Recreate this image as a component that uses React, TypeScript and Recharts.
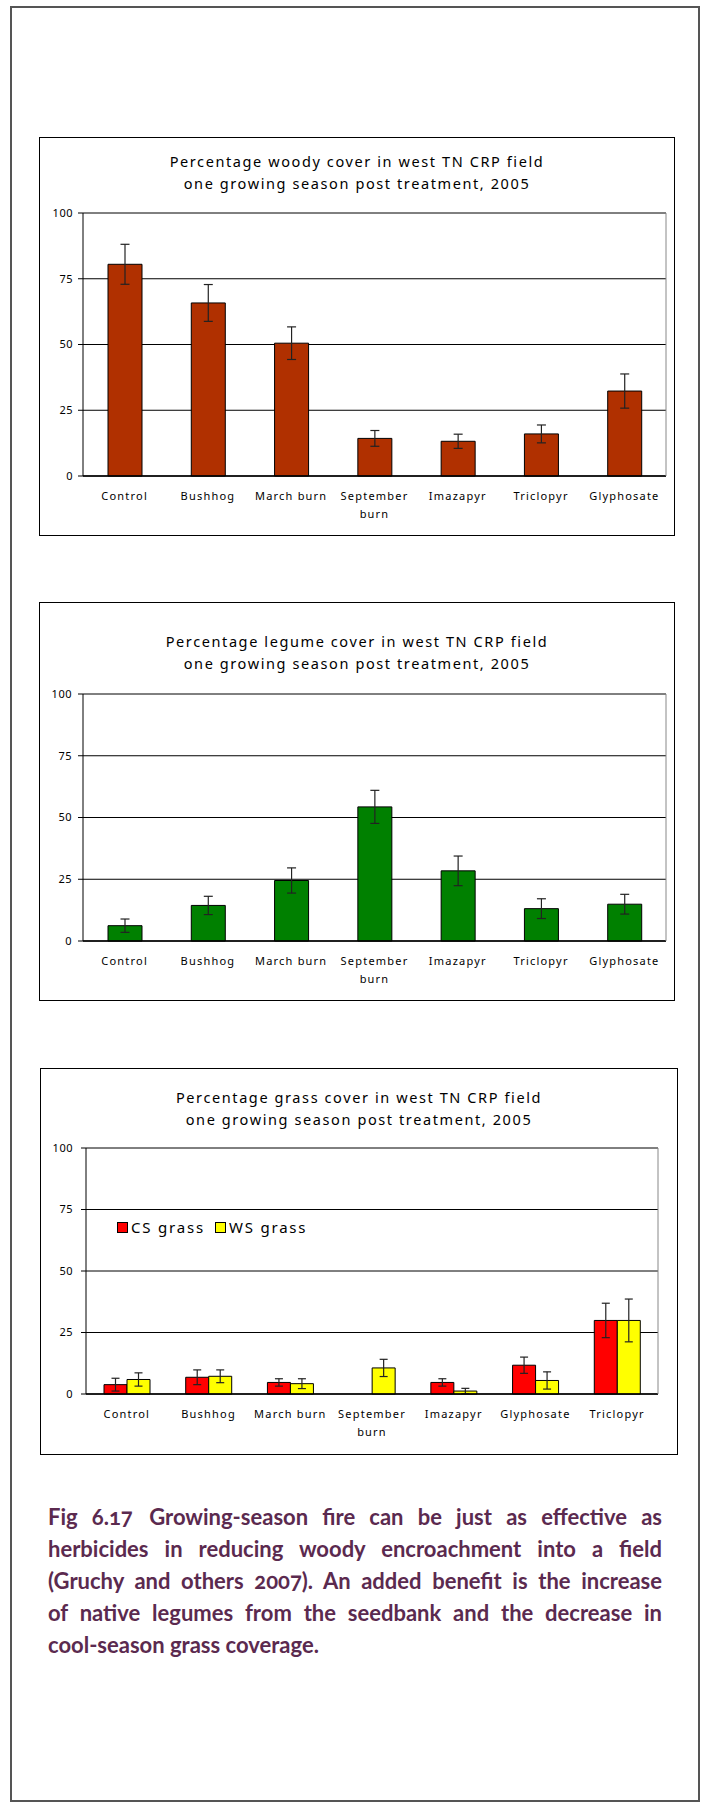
import React from "react";
import { BarChart, Bar, XAxis, YAxis, CartesianGrid, ErrorBar, Legend } from "recharts";

// --- data ---
const CATEGORIES = ["Control", "Bushhog", "March burn", "September burn", "Imazapyr", "Triclopyr", "Glyphosate"];
const WOODY = [80.5, 65.8, 50.5, 14.3, 13.2, 16, 32.3];
const WOODY_ERR = [7.6, 7, 6.2, 3, 2.7, 3.4, 6.5];
const LEGUME = [6.2, 14.4, 24.5, 54.3, 28.4, 13.1, 14.9];
const LEGUME_ERR = [2.7, 3.7, 5.1, 6.7, 6, 4, 4];

const GRASS_CATEGORIES = ["Control", "Bushhog", "March burn", "September burn", "Imazapyr", "Glyphosate", "Triclopyr"];
const CS_GRASS = [3.8, 6.8, 4.7, null, 4.7, 11.7, 29.9];
const CS_GRASS_ERR = [2.6, 3, 1.5, null, 1.5, 3.3, 7];
const WS_GRASS = [5.9, 7.2, 4.2, 10.6, 1.2, 5.5, 29.9];
const WS_GRASS_ERR = [2.7, 2.6, 2, 3.5, 1.1, 3.5, 8.7];

const Y_TICKS = [0, 25, 50, 75, 100];

const CAPTION = [
  "Fig 6.17\u2003Growing-season fire can be just as effective as",
  "herbicides in reducing woody encroachment into a field",
  "(Gruchy and others 2007). An added benefit is the increase",
  "of native legumes from the seedbank and the decrease in",
  "cool-season grass coverage.",
];

const FONT = "'Noto Sans', 'DejaVu Sans', sans-serif";

const woodyData = CATEGORIES.map((name, i) => ({ name, value: WOODY[i], err: WOODY_ERR[i] }));
const legumeData = CATEGORIES.map((name, i) => ({ name, value: LEGUME[i], err: LEGUME_ERR[i] }));
const grassData = GRASS_CATEGORIES.map((name, i) => ({
  name,
  cs: CS_GRASS[i],
  csErr: CS_GRASS_ERR[i],
  ws: WS_GRASS[i],
  wsErr: WS_GRASS_ERR[i],
}));

function CategoryTick({ x, y, payload }: any) {
  const label = String(payload.value);
  const lines = label.length > 12 ? label.split(" ") : [label];
  return (
    <text x={x} y={y} textAnchor="middle" fontFamily={FONT} fontSize={11} letterSpacing={1.2} fill="#000">
      {lines.map((l, i) => (
        <tspan key={i} x={x} dy={i === 0 ? 24 : 18}>
          {l}
        </tspan>
      ))}
    </text>
  );
}

function GrassLegend() {
  const items = [
    { label: "CS grass", color: "#FF0000" },
    { label: "WS grass", color: "#FFFF00" },
  ];
  return (
    <div style={{ display: "flex", alignItems: "center", fontFamily: FONT, fontSize: 15, letterSpacing: 1.8, whiteSpace: "nowrap" }}>
      {items.map((it) => (
        <span key={it.label} style={{ display: "flex", alignItems: "center", marginRight: 10 }}>
          <span style={{ width: 9, height: 9, background: it.color, border: "1px solid #000", marginRight: 3 }} />
          {it.label}
        </span>
      ))}
    </div>
  );
}

interface PanelProps {
  left: number;
  top: number;
  width: number;
  height: number;
  title: string[];
  titleTop: number;
  margin: { top: number };
  yWidth: number;
  rightWidth: number;
  xHeight: number;
  tickMargin: number;
  data: any[];
  children: React.ReactNode;
  legend?: boolean;
}

function Panel(p: PanelProps) {
  const edges = p.data.map((_, i) => i).concat(p.data.length);
  return (
    <div style={{ position: "absolute", left: p.left, top: p.top, width: p.width, height: p.height }}>
      <BarChart
        width={p.width}
        height={p.height}
        data={p.data}
        margin={{ top: p.margin.top, right: 0, bottom: 0, left: 0 }}
        barGap={0}
      >
        <CartesianGrid vertical={false} stroke="#000" strokeWidth={1} />
        <XAxis
          xAxisId="edges"
          type="number"
          domain={[0, p.data.length]}
          ticks={edges}
          height={1}
          tickSize={5}
          tickLine={{ stroke: "#000" }}
          axisLine={false}
          tickFormatter={() => ""}
        />
        <XAxis
          dataKey="name"
          height={p.xHeight}
          tickLine={false}
          tickSize={0}
          tickMargin={0}
          interval={0}
          axisLine={{ stroke: "#000", strokeWidth: 1.5 }}
          tick={<CategoryTick />}
        />
        <YAxis
          domain={[0, 100]}
          ticks={Y_TICKS}
          width={p.yWidth}
          tickSize={5}
          tickMargin={p.tickMargin}
          axisLine={{ stroke: "#000" }}
          tickLine={{ stroke: "#000" }}
          tick={{ fill: "#000", fontSize: 11, fontFamily: FONT, letterSpacing: 0.5 }}
        />
        <YAxis
          yAxisId="right"
          orientation="right"
          domain={[0, 100]}
          width={p.rightWidth}
          tick={false}
          tickLine={false}
          axisLine={{ stroke: "#888" }}
        />
        {p.legend && (
          <Legend
            layout="horizontal"
            verticalAlign="middle"
            align="center"
            wrapperStyle={{ top: 149, left: 77, width: "auto" }}
            content={<GrassLegend />}
          />
        )}
        {p.children}
      </BarChart>
      <div
        style={{
          position: "absolute",
          inset: 0,
          border: "1.5px solid #000",
          boxSizing: "border-box",
          pointerEvents: "none",
        }}
      />
      <div
        style={{
          position: "absolute",
          left: 0,
          width: p.width,
          top: p.titleTop,
          textAlign: "center",
          fontFamily: FONT,
          fontSize: 14.5,
          letterSpacing: 1.6,
          lineHeight: "21.5px",
          color: "#000",
        }}
      >
        {p.title.map((t) => (
          <div key={t}>{t}</div>
        ))}
      </div>
    </div>
  );
}

export default function App() {
  return (
    <div style={{ position: "absolute", left: 0, top: 0, width: 702, height: 1803, background: "#fff" }}>
      <div
        style={{
          position: "absolute",
          left: 10,
          top: 6,
          width: 690,
          height: 1796,
          border: "2px solid #555",
          boxSizing: "border-box",
        }}
      />

      <Panel
        left={39}
        top={137}
        width={636}
        height={399}
        title={["Percentage woody cover in west TN CRP field", "one growing season post treatment, 2005"]}
        titleTop={14}
        margin={{ top: 76 }}
        yWidth={44}
        rightWidth={9}
        xHeight={59}
        tickMargin={5}
        data={woodyData}
      >
        <Bar dataKey="value" fill="#B03000" stroke="#000" strokeWidth={1} barSize={34} isAnimationActive={false}>
          <ErrorBar dataKey="err" width={4.5} stroke="#222" strokeWidth={1.2} direction="y" isAnimationActive={false} />
        </Bar>
      </Panel>

      <Panel
        left={39}
        top={602}
        width={636}
        height={399}
        title={["Percentage legume cover in west TN CRP field", "one growing season post treatment, 2005"]}
        titleTop={29}
        margin={{ top: 92 }}
        yWidth={44}
        rightWidth={9}
        xHeight={59}
        tickMargin={6}
        data={legumeData}
      >
        <Bar dataKey="value" fill="#008000" stroke="#000" strokeWidth={1} barSize={34} isAnimationActive={false}>
          <ErrorBar dataKey="err" width={4.5} stroke="#222" strokeWidth={1.2} direction="y" isAnimationActive={false} />
        </Bar>
      </Panel>

      <Panel
        left={40}
        top={1068}
        width={638}
        height={387}
        title={["Percentage grass cover in west TN CRP field", "one growing season post treatment, 2005"]}
        titleTop={19}
        margin={{ top: 80 }}
        yWidth={46}
        rightWidth={20}
        xHeight={60}
        tickMargin={8}
        data={grassData}
        legend
      >
        <Bar dataKey="cs" name="CS grass" fill="#FF0000" stroke="#000" strokeWidth={1} barSize={23} isAnimationActive={false}>
          <ErrorBar dataKey="csErr" width={4} stroke="#222" strokeWidth={1.2} direction="y" isAnimationActive={false} />
        </Bar>
        <Bar dataKey="ws" name="WS grass" fill="#FFFF00" stroke="#000" strokeWidth={1} barSize={23} isAnimationActive={false}>
          <ErrorBar dataKey="wsErr" width={4} stroke="#222" strokeWidth={1.2} direction="y" isAnimationActive={false} />
        </Bar>
      </Panel>

      <div
        style={{
          position: "absolute",
          left: 48,
          top: 1501,
          width: 614,
          fontFamily: "Lato, 'Open Sans', sans-serif",
          fontWeight: 700,
          fontSize: 22,
          lineHeight: "32px",
          color: "#5B2A4F",
          fontVariantNumeric: "oldstyle-nums",
        }}
      >
        {CAPTION.map((line, i) => (
          <div
            key={i}
            style={{
              textAlign: "justify",
              textAlignLast: i < CAPTION.length - 1 ? "justify" : "left",
              whiteSpace: "nowrap",
            }}
          >
            {line}
          </div>
        ))}
      </div>
    </div>
  );
}
